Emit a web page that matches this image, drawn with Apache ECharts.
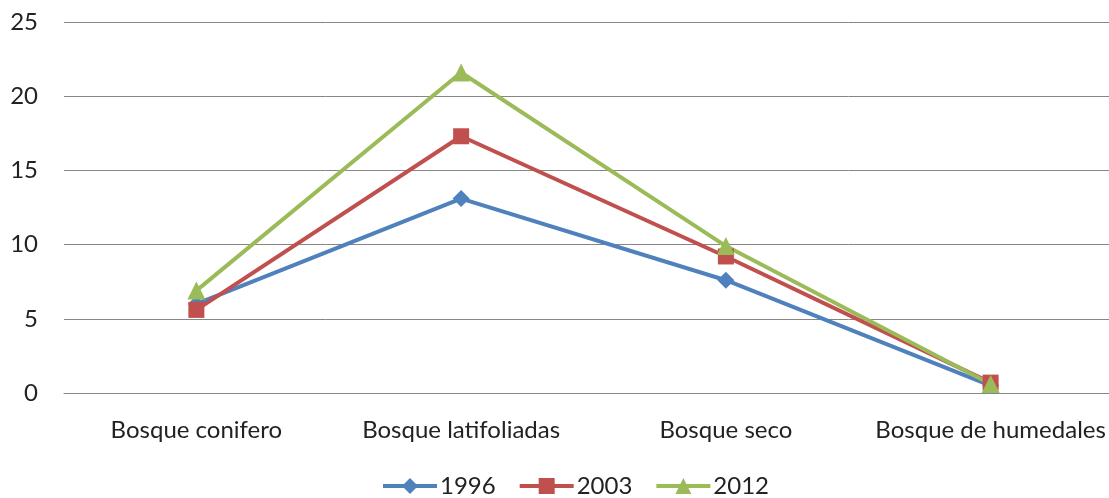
<!DOCTYPE html>
<html><head><meta charset="utf-8">
<script src="https://cdn.jsdelivr.net/npm/echarts@6/dist/echarts.min.js"></script>
<style>html,body{margin:0;padding:0;background:#fff}#c{width:1109px;height:498px}</style>
</head><body><div id="c"></div>
<script>
const categories = ["Bosque conifero", "Bosque latifoliadas", "Bosque seco", "Bosque de humedales"];
const s1996 = [6.0, 13.1, 7.6, 0.5];
const s2003 = [5.6, 17.3, 9.2, 0.7];
const s2012 = [6.9, 21.6, 9.9, 0.6];
const seriesNames = ["1996", "2003", "2012"];
const yTicks = [0, 5, 10, 15, 20, 25];

const colors = ["#4F81BD", "#C0504D", "#9BBB59"];
const symbols = ["diamond", "rect", "triangle"];
const sizes = [17, 16, 18];
const dataSets = [s1996, s2003, s2012];
const font = "Lato, 'Open Sans', sans-serif";

const chart = echarts.init(document.getElementById('c'));
chart.setOption({
  animation: false,
  grid: { left: 64, top: 22, right: -14, bottom: 105, outerBoundsMode: 'none', containLabel: false },
  legend: {
    top: 469, left: 376,
    itemWidth: 54, itemHeight: 20, itemGap: 22,
    textStyle: { fontFamily: font, fontSize: 24, color: '#222', padding: [0, 0, 0, -2] },
    data: seriesNames.map((n, i) => ({ name: n, lineStyle: { width: 4, color: colors[i] } }))
  },
  xAxis: {
    type: 'category', data: categories, boundaryGap: true,
    axisLine: { lineStyle: { color: '#868686', width: 1 } },
    axisTick: { show: false },
    axisLabel: { interval: 0, fontFamily: font, fontSize: 24, color: '#222', margin: 25, hideOverlap: false }
  },
  yAxis: {
    type: 'value', min: yTicks[0], max: yTicks[yTicks.length - 1], interval: 5,
    axisLine: { show: false }, axisTick: { show: false },
    splitLine: { lineStyle: { color: '#868686', width: 1 } },
    axisLabel: { fontFamily: font, fontSize: 24, color: '#222', margin: 26 }
  },
  series: dataSets.map((d, i) => ({
    name: seriesNames[i], type: 'line', data: d,
    symbol: symbols[i], symbolSize: sizes[i],
    lineStyle: { color: colors[i], width: 4 },
    itemStyle: { color: colors[i] }
  }))
});
</script></body></html>
